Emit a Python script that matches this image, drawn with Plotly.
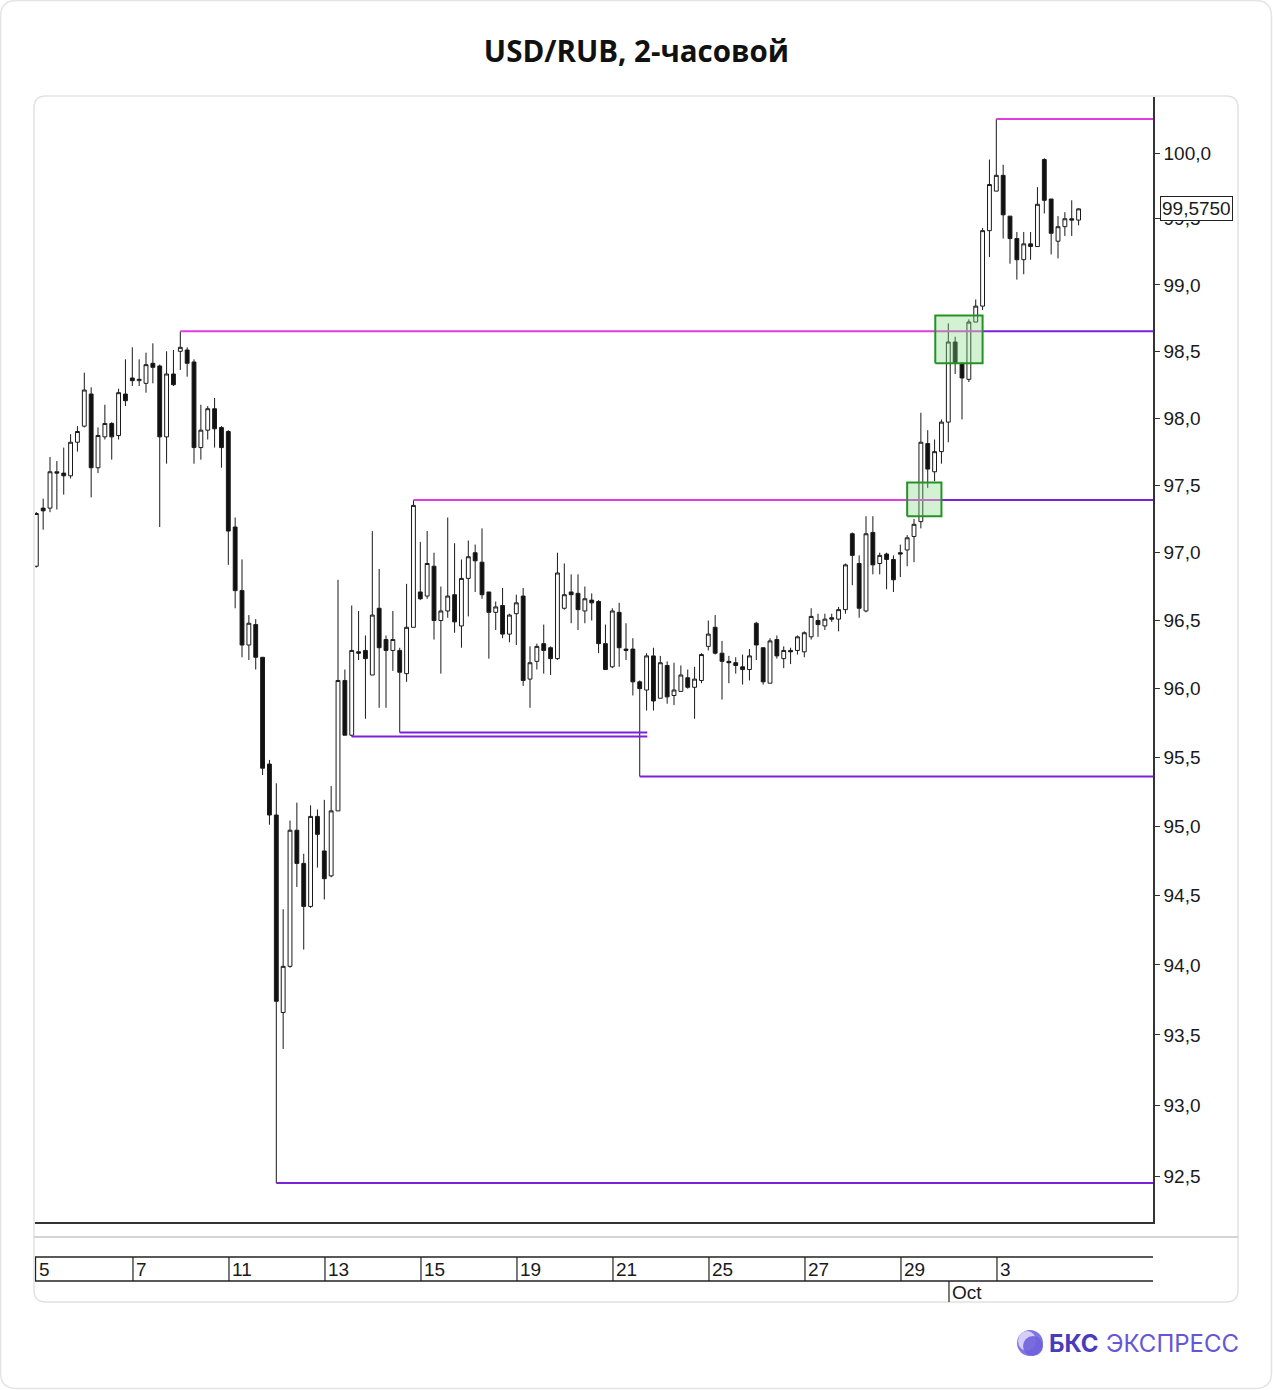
import numpy as np
import plotly.graph_objects as go

# ---------------- data (2-hour bars, USD/RUB) ----------------
opens = [96.90, 97.33, 97.33, 97.60, 97.59, 97.57, 97.82, 97.94, 98.18, 97.63,
         97.86, 97.96, 97.87, 98.18, 98.30, 98.28, 98.26, 98.41, 98.39, 97.86,
         98.33, 98.50, 98.51, 98.42, 97.78, 97.91, 98.07, 97.93, 97.90, 97.19,
         96.72, 96.32, 96.47, 96.23, 95.45, 95.08, 93.66, 93.99, 94.97, 94.73,
         94.42, 95.07, 94.82, 94.64, 95.11, 96.06, 95.66, 96.27, 96.28, 96.10,
         96.59, 96.36, 96.28, 96.28, 96.11, 96.45, 96.71, 96.68, 96.90, 96.50,
         96.57, 96.69, 96.46, 96.81, 97.00, 96.93, 96.71, 96.56, 96.61, 96.40,
         96.55, 96.68, 96.07, 96.20, 96.33, 96.30, 96.22, 96.59, 96.71, 96.70,
         96.57, 96.65, 96.64, 96.33, 96.16, 96.56, 96.29, 96.29, 96.05, 95.99,
         96.24, 95.93, 96.17, 95.95, 95.98, 96.08, 96.01, 96.06, 96.31, 96.45,
         96.26, 96.20, 96.19, 96.16, 96.14, 96.48, 96.30, 96.04, 96.36, 96.22,
         96.28, 96.28, 96.27, 96.38, 96.50, 96.46, 96.52, 96.51, 96.58, 97.14,
         96.92, 96.57, 97.15, 96.92, 96.99, 96.95, 97.00, 97.02, 97.12, 97.23,
         97.81, 97.60, 97.75, 97.97, 98.57, 98.41, 98.29, 98.72, 98.84, 99.41,
         99.71, 99.83, 99.52, 99.35, 99.19, 99.31, 99.29, 99.95, 99.65, 99.33,
         99.44, 99.50, 99.49]
highs = [97.30, 97.40, 97.71, 97.68, 97.78, 97.88, 97.94, 98.34, 98.23, 97.93,
         98.10, 97.97, 98.22, 98.44, 98.53, 98.44, 98.49, 98.56, 98.40, 98.50,
         98.51, 98.65, 98.53, 98.44, 98.10, 98.09, 98.15, 97.94, 97.91, 97.26,
         96.95, 96.54, 96.51, 96.23, 95.48, 95.31, 94.40, 95.04, 95.17, 94.80,
         95.15, 95.12, 95.19, 95.29, 96.80, 96.14, 96.61, 96.57, 96.39, 97.16,
         96.88, 96.39, 96.57, 96.30, 96.77, 97.39, 97.08, 97.16, 97.00, 96.75,
         97.26, 97.07, 96.95, 97.09, 97.06, 97.18, 96.71, 96.64, 96.74, 96.55,
         96.69, 96.74, 96.31, 96.33, 96.47, 96.31, 97.00, 96.92, 96.84, 96.84,
         96.75, 96.70, 96.65, 96.47, 96.59, 96.63, 96.48, 96.37, 96.06, 96.26,
         96.30, 96.24, 96.20, 96.19, 96.17, 96.14, 96.16, 96.26, 96.50, 96.54,
         96.35, 96.24, 96.23, 96.25, 96.29, 96.49, 96.30, 96.37, 96.39, 96.31,
         96.30, 96.39, 96.42, 96.59, 96.55, 96.55, 96.55, 96.60, 96.92, 97.15,
         96.98, 97.27, 97.27, 97.00, 97.00, 96.98, 97.06, 97.13, 97.25, 98.04,
         97.91, 97.84, 97.99, 98.71, 98.61, 98.41, 98.74, 98.89, 99.43, 99.95,
         100.26, 99.91, 99.52, 99.40, 99.40, 99.40, 99.74, 99.96, 99.65, 99.52,
         99.55, 99.64, 99.58]
lows = [96.89, 97.17, 97.30, 97.32, 97.43, 97.55, 97.75, 97.93, 97.41, 97.59,
        97.84, 97.69, 97.84, 98.09, 98.24, 98.24, 98.19, 98.26, 97.19, 97.66,
        98.24, 98.36, 98.31, 97.66, 97.69, 97.84, 97.78, 97.63, 96.91, 96.59,
        96.23, 96.21, 96.14, 95.37, 95.01, 92.45, 93.40, 93.98, 94.56, 94.11,
        94.41, 94.70, 94.47, 94.63, 95.11, 95.66, 95.65, 96.21, 95.78, 96.10,
        95.86, 95.86, 96.13, 95.68, 96.05, 96.45, 96.65, 96.66, 96.36, 96.11,
        96.52, 96.41, 96.30, 96.53, 96.71, 96.66, 96.22, 96.43, 96.37, 96.34,
        96.32, 96.02, 95.86, 96.14, 96.11, 96.10, 96.21, 96.58, 96.48, 96.43,
        96.48, 96.50, 96.26, 96.14, 96.15, 96.16, 96.21, 95.95, 95.36, 95.84,
        95.84, 95.93, 95.89, 95.88, 95.98, 96.00, 95.78, 96.04, 96.28, 96.25,
        95.92, 96.04, 96.11, 96.03, 96.06, 96.21, 96.03, 96.04, 96.22, 96.15,
        96.18, 96.25, 96.23, 96.36, 96.38, 96.43, 96.49, 96.42, 96.55, 96.76,
        96.52, 96.56, 96.84, 96.84, 96.73, 96.71, 96.82, 96.90, 96.93, 97.18,
        97.48, 97.53, 97.66, 97.82, 98.33, 97.99, 98.27, 98.72, 98.81, 99.21,
        99.71, 99.35, 99.16, 99.04, 99.08, 99.19, 99.29, 99.54, 99.23, 99.20,
        99.37, 99.37, 99.45]
closes = [97.29, 97.31, 97.60, 97.59, 97.57, 97.82, 97.90, 98.21, 97.63, 97.87,
          97.96, 97.86, 98.19, 98.13, 98.28, 98.29, 98.40, 98.38, 97.86, 98.33,
          98.25, 98.53, 98.41, 97.78, 97.91, 98.07, 97.92, 97.78, 97.16, 96.72,
          96.32, 96.48, 96.23, 95.42, 95.08, 93.74, 93.99, 94.97, 94.73, 94.42,
          95.07, 94.94, 94.62, 95.11, 96.06, 95.66, 96.28, 96.26, 96.22, 96.54,
          96.30, 96.28, 96.36, 96.12, 96.45, 97.35, 96.66, 96.92, 96.50, 96.57,
          96.68, 96.49, 96.81, 96.97, 96.94, 96.69, 96.56, 96.60, 96.40, 96.54,
          96.63, 96.06, 96.19, 96.31, 96.28, 96.22, 96.85, 96.69, 96.69, 96.58,
          96.66, 96.63, 96.33, 96.14, 96.57, 96.30, 96.28, 96.05, 96.00, 96.24,
          95.91, 96.19, 95.94, 95.99, 96.10, 96.01, 96.07, 96.25, 96.40, 96.26,
          96.20, 96.19, 96.17, 96.14, 96.24, 96.32, 96.05, 96.35, 96.24, 96.28,
          96.27, 96.38, 96.41, 96.53, 96.47, 96.51, 96.51, 96.58, 96.91, 96.98,
          96.59, 97.14, 96.91, 96.98, 96.95, 96.80, 96.99, 97.11, 97.21, 97.82,
          97.62, 97.75, 97.97, 98.57, 98.41, 98.30, 98.72, 98.84, 99.41, 99.76,
          99.83, 99.53, 99.35, 99.19, 99.31, 99.29, 99.61, 99.64, 99.39, 99.44,
          99.50, 99.49, 99.575]

# x-axis day labels (first bar of the day) and month label
day_labels = ["5", "7", "11", "13", "15", "19", "21", "25", "27", "29", "3"]
day_first_bar = [0, 14, 28, 42, 56, 70, 84, 98, 112, 126, 140]
month_label = "Oct"
month_first_bar = 133

# price scale ticks
price_ticks = [92.5, 93.0, 93.5, 94.0, 94.5, 95.0, 95.5, 96.0, 96.5, 97.0,
               97.5, 98.0, 98.5, 99.0, 99.5, 100.0]

# resistance (bar whose high starts the line) and support (bar whose low starts it)
res_bars = [140, 21, 55]
res_break_at = [None, 138.0, 132.0]      # line turns purple after the breakout box
sup_bars = [46, 53, 88, 35]
sup_end_bar = [89.1, 89.1, None, None]

# breakout boxes: (bar from, bar to, price low, price high)
box_bar0 = [127.0, 131.1]
box_bar1 = [132.0, 138.0]
box_lo = [97.27, 98.41]
box_hi = [97.52, 98.77]

# ---------------- geometry ----------------
W, H = 1273, 1390
PL, PR, PT, PB = 35, 1153, 97, 1222
BAR_PX = 48 / 7
FIRST_BAR_PX = 36.3


def px(xp):
    return (xp - PL) / (PR - PL)


def py(yp):
    return (PB - yp) / (PB - PT)


x_range = [(PL - FIRST_BAR_PX) / BAR_PX, (PR - FIRST_BAR_PX) / BAR_PX]
y_top_price = 100 * np.exp((153 - PT) / 13122)
y_bot_price = 100 * np.exp(-(PB - 153) / 13122)
y_range = [np.log10(y_bot_price), np.log10(y_top_price)]

MAGENTA = "#e03ce0"
PURPLE = "#7a22d8"
INK = "#1a1a1a"

n = len(closes)
xs = list(range(n))

fig = go.Figure()
fig.add_trace(go.Candlestick(
    x=xs, open=opens, high=highs, low=lows, close=closes,
    increasing=dict(line=dict(color=INK, width=1), fillcolor="white"),
    decreasing=dict(line=dict(color=INK, width=1), fillcolor="#111111"),
    whiskerwidth=0, showlegend=False, hoverinfo="skip"))

xmax = x_range[1] + 0.5

# resistance lines
for b, brk in zip(res_bars, res_break_at):
    lvl = highs[b]
    if brk is None:
        fig.add_trace(go.Scatter(x=[b, xmax], y=[lvl, lvl], mode="lines",
                                 line=dict(color=MAGENTA, width=2),
                                 showlegend=False, hoverinfo="skip"))
    else:
        fig.add_trace(go.Scatter(x=[b, brk], y=[lvl, lvl], mode="lines",
                                 line=dict(color=MAGENTA, width=2),
                                 showlegend=False, hoverinfo="skip"))
        fig.add_trace(go.Scatter(x=[brk, xmax], y=[lvl, lvl], mode="lines",
                                 line=dict(color=PURPLE, width=2),
                                 showlegend=False, hoverinfo="skip"))

# support lines
for b, e in zip(sup_bars, sup_end_bar):
    lvl = lows[b]
    end = xmax if e is None else e
    fig.add_trace(go.Scatter(x=[b, end], y=[lvl, lvl], mode="lines",
                             line=dict(color=PURPLE, width=2),
                             showlegend=False, hoverinfo="skip"))

# breakout boxes
for x0, x1, lo, hi in zip(box_bar0, box_bar1, box_lo, box_hi):
    fig.add_trace(go.Scatter(x=[x0, x1, x1, x0, x0], y=[lo, lo, hi, hi, lo],
                             mode="lines", fill="toself",
                             fillcolor="rgba(130,215,130,0.35)",
                             line=dict(color="#279127", width=2),
                             showlegend=False, hoverinfo="skip"))

shapes = []


def rrect(x0, y0, x1, y1, r):
    return (f"M {px(x0 + r)},{py(y0)} L {px(x1 - r)},{py(y0)} "
            f"Q {px(x1)},{py(y0)} {px(x1)},{py(y0 + r)} "
            f"L {px(x1)},{py(y1 - r)} Q {px(x1)},{py(y1)} {px(x1 - r)},{py(y1)} "
            f"L {px(x0 + r)},{py(y1)} Q {px(x0)},{py(y1)} {px(x0)},{py(y1 - r)} "
            f"L {px(x0)},{py(y0 + r)} Q {px(x0)},{py(y0)} {px(x0 + r)},{py(y0)} Z")


# outer page border and chart card
shapes.append(dict(type="path", xref="paper", yref="paper",
                   path=rrect(0.5, 0.5, W - 1.5, H - 1.5, 16),
                   line=dict(color="#e4e4e4", width=1.5), layer="below"))
shapes.append(dict(type="path", xref="paper", yref="paper",
                   path=rrect(34, 96, 1238, 1302, 12),
                   line=dict(color="#e2e2e2", width=1.5), layer="below"))
# separator under plot
shapes.append(dict(type="line", xref="paper", yref="paper",
                   x0=px(34), x1=px(1238), y0=py(1237), y1=py(1237),
                   line=dict(color="#d4d4d4", width=2)))
# date strip
for yy in (1257, 1281):
    shapes.append(dict(type="line", xref="paper", yref="paper",
                       x0=0, x1=1, y0=py(yy), y1=py(yy),
                       line=dict(color="#222", width=1.3)))
shapes.append(dict(type="line", xref="paper", yref="paper",
                   x0=0.0005, x1=0.0005, y0=py(1257), y1=py(1281),
                   line=dict(color="#222", width=1.2)))
for b in day_first_bar[1:]:
    shapes.append(dict(type="line", xref="x", yref="paper",
                       x0=b + 0.1, x1=b + 0.1, y0=py(1257), y1=py(1281),
                       line=dict(color="#222", width=1.2)))
shapes.append(dict(type="line", xref="x", yref="paper",
                   x0=month_first_bar + 0.1, x1=month_first_bar + 0.1,
                   y0=py(1281), y1=py(1302),
                   line=dict(color="#222", width=1.2)))

# logo sphere
shapes.append(dict(type="circle", xref="paper", yref="paper",
                   x0=px(1017), x1=px(1043), y0=py(1356), y1=py(1330),
                   fillcolor="#8077e2", line=dict(width=0)))
shapes.append(dict(type="circle", xref="paper", yref="paper",
                   x0=px(1018), x1=px(1036), y0=py(1351), y1=py(1331),
                   fillcolor="rgba(226,222,252,0.85)", line=dict(width=0)))
shapes.append(dict(type="circle", xref="paper", yref="paper",
                   x0=px(1023), x1=px(1043), y0=py(1356), y1=py(1336),
                   fillcolor="rgba(110,96,220,0.9)", line=dict(width=0)))

annotations = []
axis_font = dict(family="Liberation Sans, Arial, sans-serif", size=19, color="#1a1a1a")
for i, (lab, b) in enumerate(zip(day_labels, day_first_bar)):
    annotations.append(dict(x=b, xref="x", y=py(1269), yref="paper",
                            text=lab, showarrow=False, xanchor="left",
                            yanchor="middle", xshift=1 if i == 0 else 2,
                            font=axis_font))
annotations.append(dict(x=month_first_bar, xref="x", y=py(1292), yref="paper",
                        text=month_label, showarrow=False, xanchor="left",
                        yanchor="middle", xshift=2, font=axis_font))
# last price box
annotations.append(dict(x=px(1160), xref="paper", y=np.log10(closes[-1]), yref="y",
                        text=f"{closes[-1]:.4f}".replace(".", ","), showarrow=False,
                        xanchor="left", yanchor="middle", bgcolor="white",
                        bordercolor="#222", borderwidth=1, borderpad=1,
                        font=axis_font))
# logo text
annotations.append(dict(x=px(1047), xref="paper", y=py(1343), yref="paper",
                        text="<b>БКС</b>", showarrow=False, xanchor="left",
                        yanchor="middle",
                        font=dict(family="Inter, Noto Sans, sans-serif", size=24,
                                  color="#4a3bbd")))
annotations.append(dict(x=px(1104), xref="paper", y=py(1343), yref="paper",
                        text="ЭКСПРЕСС", showarrow=False, xanchor="left",
                        yanchor="middle",
                        font=dict(family="Inter, Noto Sans, sans-serif", size=24,
                                  color="#6456d6")))

fig.update_layout(
    width=W, height=H,
    margin=dict(l=PL, r=W - PR, t=PT, b=H - PB, autoexpand=False),
    paper_bgcolor="white", plot_bgcolor="white",
    boxgap=0.2,
    title=dict(text="<b>USD/RUB, 2-часовой</b>", x=0.5, xref="container",
               xanchor="center", y=1 - 52 / H, yref="container", yanchor="middle",
               font=dict(family="Open Sans, Noto Sans, sans-serif", size=29.5,
                         color="#111")),
    xaxis=dict(range=x_range, showticklabels=False, ticks="", showgrid=False,
               zeroline=False, showline=True, linecolor="#333", linewidth=1.5,
               rangeslider=dict(visible=False), fixedrange=True),
    yaxis=dict(type="log", range=y_range, side="right", showgrid=False,
               zeroline=False, showline=True, linecolor="#333", linewidth=1.5,
               ticks="outside", ticklen=5, tickwidth=1, tickcolor="#333",
               tickvals=price_ticks,
               ticktext=[f"{v:.1f}".replace(".", ",") for v in price_ticks],
               tickfont=axis_font, fixedrange=True),
    shapes=shapes, annotations=annotations,
    showlegend=False,
)

fig.write_html("out.html", config={"displayModeBar": False},
               post_script="document.body.style.margin='0';")
